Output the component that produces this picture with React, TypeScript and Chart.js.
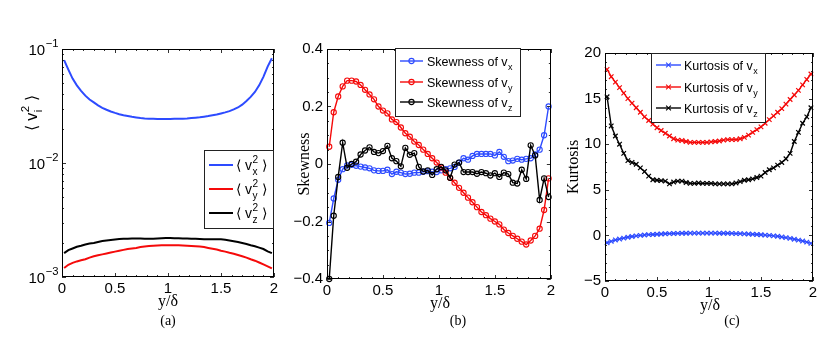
import React, { useEffect, useRef } from 'react';
import { Chart, registerables } from 'chart.js';

Chart.register(...registerables);

// ---------------- data ----------------
const yOverDelta = [
  0.02, 0.06, 0.10, 0.14, 0.18, 0.22, 0.26, 0.30, 0.34, 0.38,
  0.42, 0.46, 0.50, 0.54, 0.58, 0.62, 0.66, 0.70, 0.74, 0.78,
  0.82, 0.86, 0.90, 0.94, 0.98, 1.02, 1.06, 1.10, 1.14, 1.18,
  1.22, 1.26, 1.30, 1.34, 1.38, 1.42, 1.46, 1.50, 1.54, 1.58,
  1.62, 1.66, 1.70, 1.74, 1.78, 1.82, 1.86, 1.90, 1.94, 1.98,
];

const meanSqVx = [
  0.080, 0.066, 0.055, 0.048, 0.043, 0.039, 0.036, 0.034, 0.032, 0.0305,
  0.0293, 0.0283, 0.0275, 0.0268, 0.0262, 0.0258, 0.0254, 0.0251, 0.0248, 0.0246,
  0.0245, 0.0244, 0.0243, 0.0243, 0.0243, 0.0243, 0.0244, 0.0244, 0.0245, 0.0246,
  0.0248, 0.025, 0.0252, 0.0255, 0.0258, 0.0262, 0.0266, 0.0272, 0.0278, 0.0285,
  0.0295, 0.0307, 0.0325, 0.035, 0.038, 0.042, 0.048, 0.057, 0.070, 0.083,
];
const meanSqVy = [
  0.0012, 0.00128, 0.00133, 0.00137, 0.0014, 0.00143, 0.00148, 0.00152, 0.00155, 0.00158,
  0.00161, 0.00164, 0.00167, 0.0017, 0.00173, 0.00176, 0.00178, 0.0018, 0.00183, 0.00185,
  0.00187, 0.00188, 0.00189, 0.0019, 0.0019, 0.0019, 0.0019, 0.0019, 0.00189, 0.00188,
  0.00187, 0.00186, 0.00185, 0.00183, 0.0018, 0.00177, 0.00174, 0.0017, 0.00167, 0.00163,
  0.0016, 0.00156, 0.00152, 0.00148, 0.00143, 0.00139, 0.00134, 0.00129, 0.00124, 0.00119,
];
const meanSqVz = [
  0.00162, 0.00172, 0.00178, 0.00184, 0.00188, 0.00193, 0.00197, 0.00199, 0.00203, 0.00207,
  0.00209, 0.00211, 0.00213, 0.00215, 0.00216, 0.00217, 0.00218, 0.00218, 0.00218, 0.00217,
  0.00217, 0.00217, 0.00218, 0.00219, 0.0022, 0.0022, 0.00219, 0.00219, 0.00218, 0.00218,
  0.00217, 0.00216, 0.00215, 0.00214, 0.00214, 0.00214, 0.00214, 0.00214, 0.00212, 0.00209,
  0.00206, 0.00203, 0.00199, 0.00195, 0.0019, 0.00186, 0.00181, 0.00176, 0.00168, 0.00162,
];

const skewVx = [
  -0.205, -0.12, -0.055, -0.018, -0.005, -0.003, -0.006, -0.009, -0.012, -0.015,
  -0.022, -0.024, -0.024, -0.02, -0.035, -0.027, -0.03, -0.035, -0.034, -0.03,
  -0.03, -0.027, -0.025, -0.027, -0.028, -0.022, -0.018, -0.015, -0.01, 0.005,
  0.02, 0.015, 0.028, 0.035, 0.035, 0.035, 0.035, 0.03, 0.042, 0.025,
  0.01, 0.012, 0.018, 0.015, 0.018, 0.02, 0.033, 0.05, 0.1, 0.2,
];
const skewVy = [
  0.06, 0.18, 0.235, 0.27, 0.29, 0.29, 0.287, 0.275, 0.258, 0.242,
  0.225, 0.2, 0.186, 0.176, 0.155, 0.146, 0.127, 0.107, 0.095, 0.078,
  0.066, 0.05, 0.035, 0.02, 0.005, -0.012, -0.03, -0.048, -0.065, -0.083,
  -0.1, -0.117, -0.133, -0.15, -0.167, -0.178, -0.19, -0.2, -0.21, -0.228,
  -0.24, -0.25, -0.26, -0.27, -0.28, -0.266, -0.25, -0.225, -0.16, -0.05,
];
const skewVz = [
  -0.4, -0.18, -0.045, 0.074, -0.013, 0.0, 0.008, 0.033, 0.047, 0.058,
  0.042, 0.038, 0.045, 0.063, 0.02, 0.01, -0.008, 0.056, 0.032, 0.038,
  -0.01, -0.026, -0.022, -0.038, -0.018, -0.01, -0.022, -0.048, -0.002, 0.005,
  -0.028, -0.028, -0.028, -0.034, -0.028, -0.032, -0.04, -0.032, -0.045, -0.03,
  -0.035, -0.065, -0.068, -0.02, -0.052, 0.065, 0.03, -0.125, -0.05, -0.115,
];

const kurtVx = [
  -0.8, -0.65, -0.5, -0.4, -0.3, -0.2, -0.12, -0.05, 0.0, 0.04,
  0.08, 0.1, 0.13, 0.15, 0.18, 0.2, 0.21, 0.22, 0.23, 0.24,
  0.25, 0.25, 0.25, 0.25, 0.25, 0.25, 0.25, 0.24, 0.24, 0.23,
  0.22, 0.2, 0.19, 0.17, 0.15, 0.12, 0.1, 0.07, 0.03, 0.0,
  -0.05, -0.1, -0.17, -0.25, -0.33, -0.42, -0.52, -0.62, -0.74, -0.87,
];
const kurtVy = [
  18.2, 17.4, 16.8, 16.2, 15.6, 15.0, 14.5, 14.0, 13.5, 13.0,
  12.6, 12.2, 11.8, 11.5, 11.2, 10.9, 10.6, 10.45, 10.4, 10.3,
  10.2, 10.2, 10.2, 10.2, 10.2, 10.25, 10.3, 10.35, 10.45, 10.5,
  10.5, 10.5, 10.6, 10.75, 11.0, 11.3, 11.6, 11.9, 12.3, 12.7,
  13.1, 13.5, 13.9, 14.4, 14.9, 15.4, 15.9, 16.5, 17.1, 17.7,
];
const kurtVz = [
  15.2, 12.0, 10.9, 10.0, 9.0, 8.2, 8.0, 7.8, 7.4, 7.0,
  6.5, 6.1, 6.05, 6.0, 5.95, 5.65, 5.85, 5.95, 5.95, 5.8,
  5.7, 5.7, 5.75, 5.7, 5.7, 5.7, 5.65, 5.65, 5.65, 5.65,
  5.65, 5.75, 5.9, 6.05, 6.1, 6.2, 6.35, 6.5, 6.9, 7.2,
  7.4, 7.7, 8.0, 8.4, 9.0, 10.3, 11.3, 12.3, 13.0, 14.0,
];

const xTickValues = [0, 0.5, 1, 1.5, 2];
const xMinorValues = [0.1, 0.2, 0.3, 0.4, 0.6, 0.7, 0.8, 0.9, 1.1, 1.2, 1.3, 1.4, 1.6, 1.7, 1.8, 1.9];
const aYTicks = [0.001, 0.01, 0.1];
const aYTickExponents = ['\u22123', '\u22122', '\u22121'];
const aYMinor = [0.002, 0.003, 0.004, 0.005, 0.006, 0.007, 0.008, 0.009, 0.02, 0.03, 0.04, 0.05, 0.06, 0.07, 0.08, 0.09];
const bYTicks = [-0.4, -0.2, 0, 0.2, 0.4];
const bYMinor = [-0.35, -0.3, -0.25, -0.15, -0.1, -0.05, 0.05, 0.1, 0.15, 0.25, 0.3, 0.35];
const cYTicks = [-5, 0, 5, 10, 15, 20];
const cYMinor = [-4, -3, -2, -1, 1, 2, 3, 4, 6, 7, 8, 9, 11, 12, 13, 14, 16, 17, 18, 19];

// ---------------- styling ----------------
const H = 358;
const BLUE = 'rgb(45, 75, 255)';
const RED = 'rgb(245, 10, 10)';
const BLACK = '#000000';
const SANS = '"Liberation Sans", Arial, Helvetica, sans-serif';
const SERIF = '"Liberation Serif", "Times New Roman", serif';

type Seg = { t?: string; sub?: string; sup?: string };

function richWidth(ctx: CanvasRenderingContext2D, segs: Seg[], size: number, family: string, small = 0.72) {
  let w = 0;
  for (const s of segs) {
    if (s.t) {
      ctx.font = `${size}px ${family}`;
      w += ctx.measureText(s.t).width;
    } else {
      ctx.font = `${size * small}px ${family}`;
      const a = s.sub ? ctx.measureText(s.sub).width : 0;
      const b = s.sup ? ctx.measureText(s.sup).width : 0;
      w += Math.max(a, b) + 1;
    }
  }
  return w;
}

function drawRich(ctx: CanvasRenderingContext2D, x: number, y: number, segs: Seg[], size: number, family: string, small = 0.72) {
  ctx.textAlign = 'left';
  ctx.textBaseline = 'alphabetic';
  let cx = x;
  for (const s of segs) {
    if (s.t) {
      ctx.font = `${size}px ${family}`;
      ctx.fillText(s.t, cx, y);
      cx += ctx.measureText(s.t).width;
    } else {
      ctx.font = `${size * small}px ${family}`;
      let w = 0;
      if (s.sub) {
        ctx.fillText(s.sub, cx + 0.5, y + size * 0.33);
        w = Math.max(w, ctx.measureText(s.sub).width);
      }
      if (s.sup) {
        ctx.fillText(s.sup, cx + 0.5, y - size * 0.48);
        w = Math.max(w, ctx.measureText(s.sup).width);
      }
      cx += w + 1;
    }
  }
}

function drawMarker(ctx: CanvasRenderingContext2D, kind: string, x: number, y: number, color: string) {
  ctx.strokeStyle = color;
  ctx.lineWidth = 1.1;
  if (kind === 'circle') {
    ctx.beginPath();
    ctx.arc(x, y, 2.6, 0, Math.PI * 2);
    ctx.stroke();
  } else if (kind === 'cross') {
    const r = 2.4;
    ctx.beginPath();
    ctx.moveTo(x - r, y - r); ctx.lineTo(x + r, y + r);
    ctx.moveTo(x - r, y + r); ctx.lineTo(x + r, y - r);
    ctx.stroke();
  }
}

const fmtNum = (v: number) => String(Math.round(v * 1000) / 1000).replace('-', '\u2212');

function series(ys: number[], color: string, marker: string, order: number, lw: number) {
  const base: any = {
    data: yOverDelta.map((x, i) => ({ x, y: ys[i] })),
    borderColor: color,
    borderWidth: lw,
    tension: 0,
    order,
    clip: false,
    fill: false,
  };
  if (marker === 'none') {
    base.pointRadius = 0;
  } else if (marker === 'circle') {
    base.pointStyle = 'circle';
    base.pointRadius = 2.6;
    base.pointBorderWidth = 1.1;
    base.pointBorderColor = color;
    base.pointBackgroundColor = 'rgba(255,255,255,0)';
  } else {
    base.pointStyle = 'crossRot';
    base.pointRadius = 3.2;
    base.pointBorderWidth = 1.2;
    base.pointBorderColor = color;
  }
  return base;
}

interface LegendItem { color: string; marker: string; segs: Seg[]; lw: number }
interface Panel {
  id: string;
  cl: number; cw: number;
  L: number; R: number; T: number; B: number;
  yType: string; yMin: number; yMax: number;
  yTicks: number[]; yMinor: number[]; yFmt: (v: number) => string; yPad: number;
  powerLabels?: string[];
  datasets: any[];
  legend: { x: number; y: number; w: number; h: number; rows: number[]; l0: number; l1: number; tx: number; size: number; items: LegendItem[] };
  yTitle: { x: number; y: number; segs: Seg[]; size: number; family: string };
  xTitle: { x: number; y: number };
  caption: { x: number; y: number; text: string };
}

const PANELS: Panel[] = [
  {
    id: 'a', cl: 0, cw: 290, L: 62, R: 274, T: 49, B: 277,
    yType: 'logarithmic', yMin: 0.001, yMax: 0.1,
    yTicks: aYTicks, yMinor: aYMinor, yPad: 3,
    yFmt: () => '',
    powerLabels: aYTickExponents,
    datasets: [
      series(meanSqVx, BLUE, 'none', 2, 2),
      series(meanSqVy, RED, 'none', 1, 2),
      series(meanSqVz, BLACK, 'none', 0, 2),
    ],
    legend: {
      x: 204, y: 150, w: 69, h: 78, rows: [165, 189, 213], l0: 209, l1: 233, tx: 236, size: 14,
      items: [
        { color: BLUE, marker: 'none', lw: 2, segs: [{ t: '\u27E8 v' }, { sub: 'x', sup: '2' }, { t: ' \u27E9' }] },
        { color: RED, marker: 'none', lw: 2, segs: [{ t: '\u27E8 v' }, { sub: 'y', sup: '2' }, { t: ' \u27E9' }] },
        { color: BLACK, marker: 'none', lw: 2, segs: [{ t: '\u27E8 v' }, { sub: 'z', sup: '2' }, { t: ' \u27E9' }] },
      ],
    },
    yTitle: { x: 31, y: 113, segs: [{ t: '\u27E8 v' }, { sub: 'i', sup: '2' }, { t: ' \u27E9' }], size: 16, family: SANS },
    xTitle: { x: 168, y: 302 },
    caption: { x: 168, y: 321, text: '(a)' },
  },
  {
    id: 'b', cl: 290, cw: 268, L: 327, R: 553, T: 49, B: 279,
    yType: 'linear', yMin: -0.4, yMax: 0.4,
    yTicks: bYTicks, yMinor: bYMinor, yPad: 4,
    yFmt: (v) => fmtNum(v),
    datasets: [
      series(skewVx, BLUE, 'circle', 2, 1.4),
      series(skewVy, RED, 'circle', 1, 1.4),
      series(skewVz, BLACK, 'circle', 0, 1.4),
    ],
    legend: {
      x: 395, y: 48, w: 125, h: 68, rows: [61, 82, 102], l0: 400, l1: 423, tx: 427, size: 12.5,
      items: [
        { color: BLUE, marker: 'circle', lw: 1.4, segs: [{ t: 'Skewness of v' }, { sub: 'x' }] },
        { color: RED, marker: 'circle', lw: 1.4, segs: [{ t: 'Skewness of v' }, { sub: 'y' }] },
        { color: BLACK, marker: 'circle', lw: 1.4, segs: [{ t: 'Skewness of v' }, { sub: 'z' }] },
      ],
    },
    yTitle: { x: 303, y: 164, segs: [{ t: 'Skewness' }], size: 16, family: SERIF },
    xTitle: { x: 440, y: 304 },
    caption: { x: 458, y: 321, text: '(b)' },
  },
  {
    id: 'c', cl: 558, cw: 272, L: 605, R: 813, T: 53, B: 281,
    yType: 'linear', yMin: -5, yMax: 20,
    yTicks: cYTicks, yMinor: cYMinor, yPad: 4,
    yFmt: (v) => fmtNum(v),
    datasets: [
      series(kurtVx, BLUE, 'cross', 2, 1.4),
      series(kurtVy, RED, 'cross', 1, 1.4),
      series(kurtVz, BLACK, 'cross', 0, 1.4),
    ],
    legend: {
      x: 651, y: 53, w: 114, h: 69, rows: [65, 87, 108], l0: 656, l1: 681, tx: 684, size: 12.5,
      items: [
        { color: BLUE, marker: 'cross', lw: 1.4, segs: [{ t: 'Kurtosis of v' }, { sub: 'x' }] },
        { color: RED, marker: 'cross', lw: 1.4, segs: [{ t: 'Kurtosis of v' }, { sub: 'y' }] },
        { color: BLACK, marker: 'cross', lw: 1.4, segs: [{ t: 'Kurtosis of v' }, { sub: 'z' }] },
      ],
    },
    yTitle: { x: 572, y: 167, segs: [{ t: 'Kurtosis' }], size: 16, family: SERIF },
    xTitle: { x: 710, y: 306 },
    caption: { x: 732, y: 321, text: '(c)' },
  },
];

const decorPlugin = {
  id: 'decor',
  afterDraw(chart: any, _args: any, opts: any) {
    const p: Panel = opts.spec;
    const ctx: CanvasRenderingContext2D = chart.ctx;
    const { left, right, top, bottom } = chart.chartArea;
    const xs = chart.scales.x;
    const ys = chart.scales.y;
    const off = p.cl;
    ctx.save();

    // inward ticks on all four sides
    ctx.strokeStyle = '#333';
    ctx.lineWidth = 1;
    const line = (x1: number, y1: number, x2: number, y2: number) => {
      ctx.beginPath(); ctx.moveTo(x1, y1); ctx.lineTo(x2, y2); ctx.stroke();
    };
    const xt = (vals: number[], len: number) => {
      for (const v of vals) {
        const px = Math.round(xs.getPixelForValue(v)) + 0.5;
        line(px, bottom, px, bottom - len);
        line(px, top, px, top + len);
      }
    };
    const yt = (vals: number[], len: number) => {
      for (const v of vals) {
        const py = Math.round(ys.getPixelForValue(v)) + 0.5;
        line(left, py, left + len, py);
        line(right, py, right - len, py);
      }
    };
    xt(xTickValues, 4);
    xt(xMinorValues, 2);
    yt(p.yTicks, 4);
    yt(p.yMinor, 2);

    // power-of-ten tick labels (log axis) with real superscripts
    if (p.powerLabels) {
      ctx.fillStyle = '#000';
      p.yTicks.forEach((v, i) => {
        const py = ys.getPixelForValue(v);
        const segs: Seg[] = [{ t: '10' }, { sup: p.powerLabels![i] }];
        const w = richWidth(ctx, segs, 15, SANS, 0.75);
        drawRich(ctx, left - p.yPad - w, py + 5.5, segs, 15, SANS, 0.75);
      });
    }

    // frame
    ctx.strokeStyle = '#000';
    ctx.lineWidth = 1;
    ctx.strokeRect(Math.round(left) + 0.5, Math.round(top) + 0.5, Math.round(right - left) - 1, Math.round(bottom - top) - 1);

    // legend
    const lg = p.legend;
    ctx.fillStyle = '#fff';
    ctx.fillRect(lg.x - off, lg.y, lg.w, lg.h);
    ctx.strokeStyle = '#222';
    ctx.strokeRect(Math.round(lg.x - off) + 0.5, Math.round(lg.y) + 0.5, lg.w, lg.h);
    lg.items.forEach((it, i) => {
      const ry = lg.rows[i];
      ctx.strokeStyle = it.color;
      ctx.lineWidth = it.lw;
      line(lg.l0 - off, ry, lg.l1 - off, ry);
      if (it.marker !== 'none') drawMarker(ctx, it.marker, (lg.l0 + lg.l1) / 2 - off, ry, it.color);
      ctx.fillStyle = '#000';
      drawRich(ctx, lg.tx - off, ry + lg.size * 0.36, it.segs, lg.size, SANS);
    });

    // y title (rotated)
    const yt2 = p.yTitle;
    ctx.save();
    ctx.translate(yt2.x - off, yt2.y);
    ctx.rotate(-Math.PI / 2);
    ctx.fillStyle = '#000';
    const w = richWidth(ctx, yt2.segs, yt2.size, yt2.family);
    drawRich(ctx, -w / 2, yt2.size * 0.35, yt2.segs, yt2.size, yt2.family);
    ctx.restore();

    // x title
    ctx.fillStyle = '#000';
    ctx.font = `16px ${SERIF}`;
    ctx.textAlign = 'center';
    ctx.textBaseline = 'middle';
    ctx.fillText('y/\u03B4', p.xTitle.x - off, p.xTitle.y);

    // caption
    ctx.font = `14px ${SERIF}`;
    ctx.fillText(p.caption.text, p.caption.x - off, p.caption.y);

    ctx.restore();
  },
};

function buildConfig(p: Panel): any {
  const XH = 30;
  const tickFont = { family: SANS, size: 15 };
  return {
    type: 'line',
    data: { datasets: p.datasets },
    options: {
      animation: false,
      responsive: false,
      devicePixelRatio: 1,
      events: [],
      layout: { padding: { left: 0, top: p.T, right: p.cl + p.cw - p.R, bottom: H - p.B - XH } },
      plugins: {
        legend: { display: false },
        tooltip: { enabled: false },
        decor: { spec: p },
      },
      scales: {
        x: {
          type: 'linear', min: 0, max: 2, position: 'bottom',
          afterBuildTicks: (s: any) => { s.ticks = xTickValues.map((v) => ({ value: v })); },
          afterFit: (s: any) => { s.height = XH; },
          ticks: { font: tickFont, color: '#000', padding: 3, maxRotation: 0, autoSkip: false, callback: (v: number) => fmtNum(v) },
          grid: { display: false, drawTicks: false },
          border: { display: false },
        },
        y: {
          type: p.yType, min: p.yMin, max: p.yMax, position: 'left',
          afterBuildTicks: (s: any) => { s.ticks = p.yTicks.map((v) => ({ value: v })); },
          afterFit: (s: any) => { s.width = p.L - p.cl; },
          ticks: { display: !p.powerLabels, font: tickFont, color: '#000', padding: p.yPad, autoSkip: false, callback: (v: number) => p.yFmt(v) },
          grid: { display: false, drawTicks: false },
          border: { display: false },
        },
      },
    },
    plugins: [decorPlugin],
  };
}

export default function App() {
  const r0 = useRef<HTMLCanvasElement>(null);
  const r1 = useRef<HTMLCanvasElement>(null);
  const r2 = useRef<HTMLCanvasElement>(null);
  const refs = [r0, r1, r2];

  useEffect(() => {
    const charts = PANELS.map((p, i) => new Chart(refs[i].current as HTMLCanvasElement, buildConfig(p)));
    return () => charts.forEach((c) => c.destroy());
  }, []);

  return (
    <div style={{ position: 'fixed', left: 0, top: 0, width: 830, height: H, background: '#fff', overflow: 'hidden' }}>
      {PANELS.map((p, i) => (
        <canvas
          key={p.id}
          ref={refs[i]}
          width={p.cw}
          height={H}
          style={{ position: 'absolute', left: p.cl, top: 0, width: p.cw, height: H }}
        />
      ))}
    </div>
  );
}
